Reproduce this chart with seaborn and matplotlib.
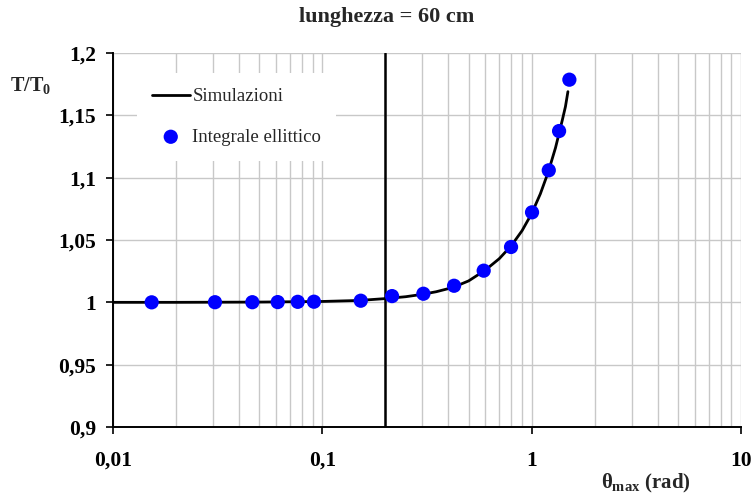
import matplotlib
matplotlib.use("Agg")
import matplotlib.pyplot as plt
import seaborn as sns
import pandas as pd
from matplotlib.ticker import FixedLocator, FixedFormatter, NullFormatter, LogLocator

# Elliptic-integral period ratio T/T0 versus amplitude theta_max (rad)
theta_ellittico = [0.0153, 0.0307, 0.0463, 0.0612, 0.0763, 0.0912, 0.1526,
                   0.2153, 0.3039, 0.4259, 0.590, 0.797, 1.004, 1.207, 1.352, 1.514]
ratio_ellittico = [1.0000, 1.0001, 1.0001, 1.0002, 1.0004, 1.0005, 1.0013,
                   1.0050, 1.0069, 1.0133, 1.0254, 1.0444, 1.0722, 1.1059, 1.1374, 1.1786]

# Simulated period ratio
theta_sim = [0.01, 0.02, 0.05, 0.1, 0.15, 0.2, 0.25, 0.3, 0.35, 0.4, 0.45, 0.5,
             0.6, 0.7, 0.8, 0.9, 1.0, 1.1, 1.2, 1.3, 1.4, 1.45, 1.49]
ratio_sim = [1.0000, 1.0000, 1.0002, 1.0007, 1.0015, 1.0030, 1.0045, 1.0064, 1.0085,
             1.0110, 1.0140, 1.0172, 1.0258, 1.0350, 1.0455, 1.0575, 1.0712, 1.0870,
             1.1045, 1.1240, 1.1460, 1.1570, 1.1690]

limite_theta = 0.2

y_ticks = [0.9, 0.95, 1.0, 1.05, 1.1, 1.15, 1.2]
y_tick_labels = ["0,9", "0,95", "1", "1,05", "1,1", "1,15", "1,2"]
x_ticks = [0.01, 0.1, 1, 10]
x_tick_labels = ["0,01", "0,1", "1", "10"]

titolo = "lunghezza = 60 cm"

sns.set_style("white")
plt.rcParams["font.family"] = ["Liberation Serif", "DejaVu Serif"]
plt.rcParams["mathtext.fontset"] = "custom"
plt.rcParams["mathtext.rm"] = "Liberation Serif:bold"
plt.rcParams["mathtext.it"] = "Liberation Serif:bold"
plt.rcParams["mathtext.bf"] = "Liberation Serif:bold"

fig = plt.figure(figsize=(7.51, 4.95), dpi=100)
ax = fig.add_axes([113 / 751, 1 - 427 / 495, 628 / 751, 374 / 495])

df_sim = pd.DataFrame({"theta": theta_sim, "ratio": ratio_sim})
df_ell = pd.DataFrame({"theta": theta_ellittico, "ratio": ratio_ellittico})

ax.set_xscale("log")
ax.set_xlim(0.01, 10)
ax.set_ylim(0.9, 1.2)

# grid
ax.xaxis.set_minor_locator(LogLocator(base=10, subs=range(2, 10)))
ax.xaxis.set_minor_formatter(NullFormatter())
ax.grid(True, which="both", axis="x", color="#c8c8c8", linewidth=1.0, zorder=0)
ax.grid(True, which="major", axis="y", color="#c8c8c8", linewidth=1.0, zorder=0)
ax.set_axisbelow(True)

ax.axvline(limite_theta, color="black", linewidth=1.8, zorder=2)

sns.lineplot(data=df_sim, x="theta", y="ratio", ax=ax, color="black",
             linewidth=2.0, label="Simulazioni", zorder=3, sort=False)
sns.scatterplot(data=df_ell, x="theta", y="ratio", ax=ax, color="#0000ff",
                s=105, edgecolor="none", label="Integrale ellittico", zorder=4)

ax.yaxis.set_major_locator(FixedLocator(y_ticks))
ax.yaxis.set_major_formatter(FixedFormatter(y_tick_labels))
ax.xaxis.set_major_locator(FixedLocator(x_ticks))
ax.xaxis.set_major_formatter(FixedFormatter(x_tick_labels))

for side in ["top", "right"]:
    ax.spines[side].set_visible(False)
for side in ["left", "bottom"]:
    ax.spines[side].set_color("black")
    ax.spines[side].set_linewidth(1.4)

ax.tick_params(axis="y", which="major", direction="out", length=5, width=1.2,
               pad=7, labelsize=15.5, left=True, colors="black")
ax.tick_params(axis="x", which="major", direction="out", length=5, width=1.2,
               pad=12, labelsize=15.5, bottom=True, colors="black")
ax.tick_params(axis="x", which="minor", length=0)
for lab in ax.get_xticklabels() + ax.get_yticklabels():
    lab.set_fontweight("bold")

ax.set_xlabel("")
ax.set_ylabel("")

fig.text(30 / 751, 1 - 85 / 495, r"$T/T_0$", fontsize=14.5, ha="center", va="center")
fig.text(646 / 751, 1 - 483 / 495, r"$\theta_{max}$ (rad)", fontsize=15,
         fontweight="bold", ha="center", va="center")
fig.text(387 / 751, 1 - 17 / 495, titolo, fontsize=16, fontweight="bold",
         ha="center", va="center")

leg = ax.legend(loc="upper left", bbox_to_anchor=(24 / 628, (427 - 73) / 374),
                frameon=True, fancybox=False, framealpha=1, facecolor="white",
                edgecolor="none", fontsize=13.5, labelspacing=1.25, handlelength=2.0,
                handletextpad=0.15, borderpad=0.8, borderaxespad=0)
leg.set_zorder(5)

fig.savefig("out.png", dpi=100, facecolor="white")
